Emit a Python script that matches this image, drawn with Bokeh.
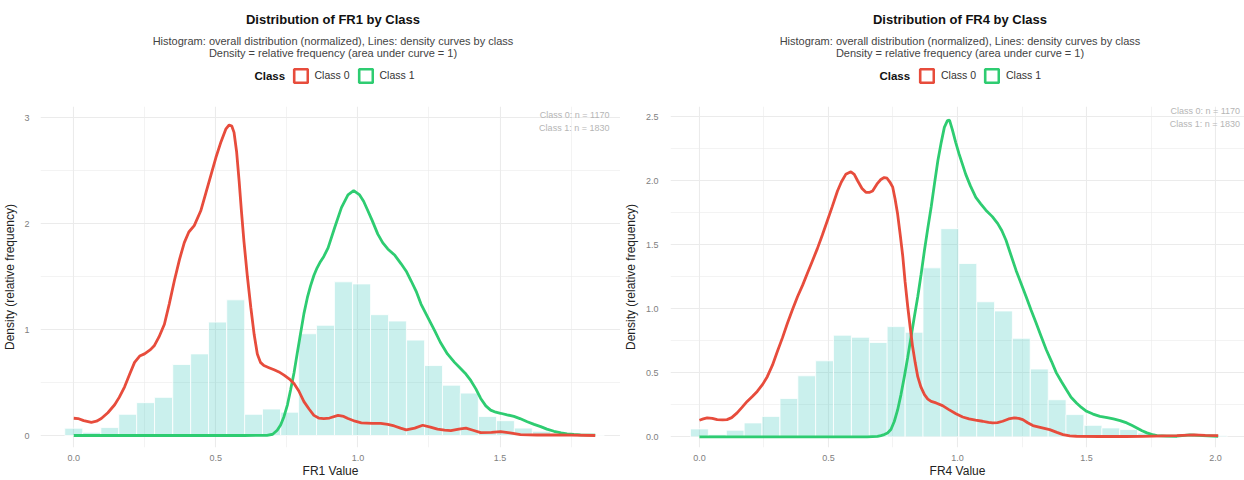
from bokeh.plotting import figure
from bokeh.models import (FixedTicker, NumeralTickFormatter, BasicTickFormatter, Label, Legend,
                          LegendItem, Range1d)
from bokeh.layouts import row, column
from bokeh.embed import file_html
from bokeh.resources import INLINE

# ---------------- data ----------------
classes = ["Class 0", "Class 1"]
class_counts = [1170, 1830]

# FR1 overall histogram (density)
fr1_bin_width = 0.0633
fr1_bin_centers = [0.0, 0.063, 0.127, 0.190, 0.253, 0.316, 0.380, 0.443, 0.506, 0.570,
                   0.633, 0.696, 0.760, 0.823, 0.886, 0.949, 1.013, 1.076, 1.139, 1.203,
                   1.266, 1.329, 1.392, 1.456, 1.519, 1.582, 1.646, 1.709, 1.772, 1.835]
fr1_hist = [0.069, 0.03, 0.075, 0.20, 0.31, 0.36, 0.67, 0.77, 1.07, 1.28,
            0.20, 0.25, 0.22, 0.96, 1.04, 1.45, 1.43, 1.14, 1.08, 0.90,
            0.66, 0.475, 0.40, 0.18, 0.14, 0.07, 0.04, 0.02, 0.01, 0.005]

# FR1 class 0 density
fr1_c0_x = [0.0, 0.015, 0.035, 0.062, 0.08, 0.097, 0.12, 0.144, 0.16, 0.179, 0.197, 0.214,
            0.232, 0.249, 0.27, 0.284, 0.30, 0.319, 0.336, 0.354, 0.372, 0.389, 0.405, 0.424,
            0.447, 0.465, 0.483, 0.50, 0.518, 0.535, 0.547, 0.556, 0.564, 0.573, 0.582, 0.590,
            0.599, 0.611, 0.623, 0.635, 0.646, 0.657, 0.669, 0.687, 0.705, 0.722, 0.740, 0.758,
            0.775, 0.792, 0.810, 0.828, 0.845, 0.862, 0.88, 0.90, 0.93, 0.95, 0.965, 0.99,
            1.012, 1.05, 1.08, 1.105, 1.128, 1.15, 1.17, 1.20, 1.228, 1.255, 1.28, 1.305,
            1.327, 1.355, 1.38, 1.405, 1.432, 1.47, 1.502, 1.535, 1.572, 1.63, 1.69, 1.75, 1.835]
fr1_c0_y = [0.163, 0.16, 0.14, 0.125, 0.135, 0.16, 0.215, 0.29, 0.36, 0.46, 0.58, 0.69,
            0.75, 0.77, 0.81, 0.85, 0.93, 1.05, 1.24, 1.46, 1.66, 1.82, 1.92, 1.98,
            2.12, 2.29, 2.46, 2.62, 2.77, 2.89, 2.93, 2.92, 2.86, 2.68, 2.40, 2.12,
            1.83, 1.50, 1.21, 0.95, 0.77, 0.69, 0.66, 0.64, 0.62, 0.60, 0.57, 0.535,
            0.49, 0.42, 0.32, 0.25, 0.19, 0.165, 0.16, 0.165, 0.19, 0.18, 0.16, 0.135,
            0.12, 0.115, 0.115, 0.105, 0.09, 0.07, 0.053, 0.07, 0.097, 0.08, 0.06, 0.05,
            0.047, 0.06, 0.069, 0.05, 0.028, 0.03, 0.037, 0.025, 0.008, 0.005, 0.005, 0.003, 0.0]

# FR1 class 1 density
fr1_c1_x = [0.0, 0.60, 0.68, 0.70, 0.716, 0.728, 0.74, 0.752, 0.763, 0.775, 0.786, 0.798,
            0.81, 0.822, 0.833, 0.845, 0.856, 0.868, 0.88, 0.895, 0.918, 0.942, 0.965, 0.985,
            1.006, 1.02, 1.035, 1.05, 1.07, 1.087, 1.105, 1.13, 1.152, 1.17, 1.187, 1.205,
            1.222, 1.245, 1.27, 1.29, 1.315, 1.34, 1.362, 1.38, 1.397, 1.415, 1.432, 1.45,
            1.467, 1.485, 1.502, 1.525, 1.549, 1.57, 1.596, 1.62, 1.643, 1.665, 1.69, 1.715,
            1.736, 1.76, 1.783, 1.835]
fr1_c1_y = [0.0, 0.0, 0.002, 0.012, 0.05, 0.10, 0.18, 0.29, 0.43, 0.59, 0.77, 0.96,
            1.15, 1.30, 1.41, 1.51, 1.58, 1.64, 1.69, 1.77, 1.96, 2.15, 2.27, 2.31,
            2.27, 2.21, 2.12, 2.03, 1.90, 1.82, 1.76, 1.70, 1.62, 1.55, 1.46, 1.36,
            1.24, 1.12, 0.99, 0.88, 0.77, 0.69, 0.63, 0.58, 0.52, 0.44, 0.35, 0.28,
            0.24, 0.22, 0.21, 0.195, 0.18, 0.16, 0.13, 0.105, 0.084, 0.06, 0.04, 0.025,
            0.016, 0.01, 0.006, 0.004]

# FR4 overall histogram (density)
fr4_bin_width = 0.0693
fr4_bin_centers = [0.0, 0.069, 0.139, 0.208, 0.277, 0.347, 0.416, 0.485, 0.554, 0.624,
                   0.693, 0.762, 0.832, 0.901, 0.970, 1.040, 1.109, 1.178, 1.247, 1.317,
                   1.386, 1.455, 1.525, 1.594, 1.663, 1.733, 1.802, 1.871, 1.940, 2.010]
fr4_hist = [0.062, 0.018, 0.052, 0.109, 0.16, 0.30, 0.477, 0.594, 0.794, 0.778,
            0.737, 0.861, 0.817, 1.32, 1.626, 1.354, 1.055, 0.983, 0.77, 0.53,
            0.29, 0.174, 0.09, 0.07, 0.057, 0.03, 0.012, 0.008, 0.01, 0.008]

# FR4 class 0 density
fr4_c0_x = [0.0, 0.015, 0.03, 0.05, 0.069, 0.09, 0.107, 0.125, 0.146, 0.165, 0.185, 0.205,
            0.224, 0.245, 0.263, 0.283, 0.302, 0.322, 0.341, 0.36, 0.38, 0.40, 0.418, 0.437,
            0.457, 0.476, 0.496, 0.515, 0.535, 0.55, 0.567, 0.587, 0.60, 0.613, 0.63, 0.645,
            0.66, 0.671, 0.69, 0.703, 0.716, 0.727, 0.738, 0.749, 0.758, 0.768, 0.778, 0.788,
            0.797, 0.807, 0.817, 0.826, 0.836, 0.846, 0.858, 0.872, 0.885, 0.898, 0.917, 0.942,
            0.965, 0.994, 1.02, 1.045, 1.07, 1.097, 1.12, 1.136, 1.155, 1.175, 1.198, 1.22,
            1.237, 1.253, 1.272, 1.292, 1.32, 1.357, 1.385, 1.409, 1.435, 1.461, 1.55, 1.65,
            1.72, 1.80, 1.85, 1.916, 1.96, 2.01]
fr4_c0_y = [0.13, 0.14, 0.148, 0.145, 0.135, 0.132, 0.135, 0.15, 0.187, 0.23, 0.277, 0.315,
            0.355, 0.41, 0.47, 0.56, 0.667, 0.775, 0.887, 0.99, 1.094, 1.185, 1.276, 1.37,
            1.47, 1.575, 1.69, 1.80, 1.92, 1.99, 2.05, 2.07, 2.05, 2.0, 1.94, 1.91,
            1.91, 1.92, 1.98, 2.01, 2.025, 2.02, 1.99, 1.95, 1.86, 1.74, 1.58, 1.41,
            1.21, 1.02, 0.85, 0.705, 0.58, 0.47, 0.39, 0.33, 0.295, 0.277, 0.265, 0.244,
            0.215, 0.18, 0.155, 0.14, 0.13, 0.122, 0.113, 0.109, 0.112, 0.122, 0.14, 0.148,
            0.145, 0.135, 0.11, 0.088, 0.075, 0.057, 0.035, 0.018, 0.008, 0.005, 0.003, 0.003,
            0.004, 0.008, 0.01, 0.015, 0.012, 0.01]

# FR4 class 1 density
fr4_c1_x = [0.0, 0.65, 0.69, 0.703, 0.716, 0.729, 0.742, 0.755, 0.768, 0.781, 0.794, 0.807,
            0.82, 0.833, 0.846, 0.859, 0.872, 0.885, 0.898, 0.911, 0.924, 0.937, 0.949, 0.961,
            0.969, 0.98, 0.993, 1.006, 1.019, 1.032, 1.05, 1.071, 1.09, 1.11, 1.135, 1.156,
            1.172, 1.188, 1.207, 1.227, 1.246, 1.266, 1.285, 1.305, 1.325, 1.344, 1.364, 1.383,
            1.403, 1.422, 1.44, 1.461, 1.48, 1.50, 1.525, 1.552, 1.58, 1.604, 1.63, 1.656,
            1.675, 1.695, 1.715, 1.734, 1.755, 1.773, 1.81, 1.85, 1.90, 1.95, 2.01]
fr4_c1_y = [0.0, 0.0, 0.004, 0.01, 0.018, 0.03, 0.057, 0.12, 0.21, 0.33, 0.47, 0.62,
            0.78, 0.94, 1.094, 1.27, 1.457, 1.63, 1.795, 1.98, 2.158, 2.30, 2.417, 2.47,
            2.474, 2.40, 2.30, 2.21, 2.13, 2.05, 1.96, 1.87, 1.82, 1.77, 1.72, 1.665,
            1.61, 1.535, 1.42, 1.30, 1.20, 1.094, 0.99, 0.887, 0.78, 0.68, 0.59, 0.50,
            0.43, 0.368, 0.31, 0.265, 0.23, 0.20, 0.178, 0.16, 0.15, 0.14, 0.127, 0.109,
            0.09, 0.07, 0.048, 0.031, 0.018, 0.01, 0.006, 0.005, 0.015, 0.01, 0.005]

fr1_xticks = [0.0, 0.5, 1.0, 1.5]
fr1_yticks = [0, 1, 2, 3]
fr4_xticks = [0.0, 0.5, 1.0, 1.5, 2.0]
fr4_yticks = [0.0, 0.5, 1.0, 1.5, 2.0, 2.5]

# ---------------- style / layout ----------------
FONT = "Liberation Sans"
RED = "#E74C3C"
GREEN = "#2ECC71"
HIST = "#4ECDC4"
GRID = "#EBEBEB"

HEAD_H = 100     # header strip (titles + legend)
MAIN_H = 380     # chart strip
BT = 6           # top border of chart
BB = 28          # bottom border of chart


def hy(page_y):
    """page y (px, from top) -> header y (px, from header bottom)"""
    return HEAD_H - page_y


def make_header(feature, width, bl, br, title_x, legend_x, class_x):
    # header frame is aligned with the chart frame below it -> data x == px from figure left
    h = figure(width=width, height=HEAD_H, x_range=Range1d(bl, width - br),
               y_range=Range1d(0, HEAD_H),
               output_backend="svg", toolbar_location=None, title=None,
               x_axis_location=None, y_axis_location=None, min_border=0,
               min_border_left=bl, min_border_right=br)
    h.grid.visible = False
    h.outline_line_color = None
    h.background_fill_color = "white"
    h.border_fill_color = "white"

    h.add_layout(Label(x=title_x, y=hy(19), text=f"Distribution of {feature} by Class",
                       text_align="center", text_baseline="middle", text_font=FONT,
                       text_font_size="13px", text_font_style="bold", text_color="#111111"))
    h.add_layout(Label(x=title_x, y=hy(40),
                       text="Histogram: overall distribution (normalized), Lines: density curves by class",
                       text_align="center", text_baseline="middle", text_font=FONT,
                       text_font_size="11px", text_color="#444444"))
    h.add_layout(Label(x=title_x, y=hy(52),
                       text="Density = relative frequency (area under curve = 1)",
                       text_align="center", text_baseline="middle", text_font=FONT,
                       text_font_size="11px", text_color="#444444"))

    # legend proxies (outlined squares), placed outside the visible header range
    r0 = h.rect(x=[-5000], y=[-5000], width=1, height=1, fill_color=None, line_color=RED,
                line_width=2.6)
    r1 = h.rect(x=[-5000], y=[-5000], width=1, height=1, fill_color=None, line_color=GREEN,
                line_width=2.6)
    gh = 17
    legend = Legend(items=[LegendItem(label=classes[0], renderers=[r0]),
                           LegendItem(label=classes[1], renderers=[r1])],
                    orientation="horizontal", location=(legend_x - bl, hy(75) - gh / 2),
                    glyph_width=gh, glyph_height=gh, label_standoff=6, spacing=7,
                    padding=0, margin=0, border_line_color=None, background_fill_alpha=0,
                    label_text_font=FONT, label_text_font_size="10.5px",
                    label_text_color="#333333", label_text_baseline="middle")
    h.add_layout(legend, "center")
    h.add_layout(Label(x=class_x, y=hy(75), text="Class",
                       text_align="right", text_baseline="middle", text_font=FONT,
                       text_font_size="11.5px", text_font_style="bold", text_color="#111111"))
    return h


def make_panel(feature, width, bl, br, xr, yr, xticks, xminor, yticks, yminor, yfmt,
               centers, bw, hist, c0x, c0y, c1x, c1y, ann_x, ann_y0, ann_y1,
               y_lab_standoff, y_axis_standoff):
    p = figure(width=width, height=MAIN_H, x_range=Range1d(*xr), y_range=Range1d(*yr),
               output_backend="svg", toolbar_location=None, title=None,
               min_border_left=bl, min_border_right=br, min_border_top=BT, min_border_bottom=BB)
    p.outline_line_color = None
    p.background_fill_color = "white"
    p.border_fill_color = "white"

    xt = FixedTicker(ticks=xticks, minor_ticks=xminor)
    yt = FixedTicker(ticks=yticks, minor_ticks=yminor)
    p.xaxis.ticker = xt
    p.yaxis.ticker = yt
    p.xgrid.ticker = xt
    p.ygrid.ticker = yt
    p.xaxis.formatter = NumeralTickFormatter(format="0.0")
    p.yaxis.formatter = yfmt
    for g in (p.xgrid, p.ygrid):
        g.grid_line_color = GRID
        g.grid_line_width = 1.1
        g.minor_grid_line_color = GRID
        g.minor_grid_line_width = 0.6
    for ax in (p.xaxis, p.yaxis):
        ax.axis_line_color = None
        ax.major_tick_line_color = None
        ax.minor_tick_line_color = None
        ax.major_tick_out = 0
        ax.major_tick_in = 0
        ax.major_label_text_font = FONT
        ax.major_label_text_font_size = "9px"
        ax.major_label_text_color = "#808080"
        ax.axis_label_text_font = FONT
        ax.axis_label_text_font_size = "12px"
        ax.axis_label_text_font_style = "normal"
        ax.axis_label_text_color = "#222222"
    p.xaxis.axis_label = f"{feature} Value"
    p.yaxis.axis_label = "Density (relative frequency)"
    p.xaxis.major_label_standoff = 3
    p.xaxis.axis_label_standoff = 0
    p.yaxis.major_label_standoff = y_lab_standoff
    p.yaxis.axis_label_standoff = y_axis_standoff

    # histogram of overall distribution
    p.vbar(x=centers, top=hist, bottom=0, width=bw, fill_color=HIST, fill_alpha=0.3,
           line_color="white", line_width=0.8)
    # density curves
    p.line(c1x, c1y, line_color=GREEN, line_width=2.8)
    p.line(c0x, c0y, line_color=RED, line_width=2.8)

    # sample-size annotation
    for yy, cls, n in ((ann_y0, classes[0], class_counts[0]), (ann_y1, classes[1], class_counts[1])):
        p.add_layout(Label(x=ann_x, y=yy, text=f"{cls}: n = {n}", text_align="right",
                           text_baseline="middle", text_font=FONT, text_font_size="9px",
                           text_color="#b5b5b5"))
    return p


P1_W, P1_BL = 620, 39
P2_W, P2_BL = 624, 49

h1 = make_header("FR1", P1_W, P1_BL, 0, 332, 290.5, 284)
h2 = make_header("FR4", P2_W, P2_BL, 0, 339, 297, 289)

p1 = make_panel("FR1", P1_W, P1_BL, 0, (-0.117, 1.924), (-0.113, 3.104),
                fr1_xticks, [0.25, 0.75, 1.25, 1.75],
                fr1_yticks, [0.5, 1.5, 2.5], BasicTickFormatter(),
                fr1_bin_centers, fr1_bin_width, fr1_hist, fr1_c0_x, fr1_c0_y, fr1_c1_x, fr1_c1_y,
                1.885, 3.02, 2.905, 7, 4)
p2 = make_panel("FR4", P2_W, P2_BL, 0, (-0.112, 2.112), (-0.083, 2.58),
                fr4_xticks, [0.25, 0.75, 1.25, 1.75],
                fr4_yticks, [0.25, 0.75, 1.25, 1.75, 2.25], NumeralTickFormatter(format="0.0"),
                fr4_bin_centers, fr4_bin_width, fr4_hist, fr4_c0_x, fr4_c0_y, fr4_c1_x, fr4_c1_y,
                2.095, 2.547, 2.443, 8, 5)

layout = row(column(h1, p1), column(h2, p2))
open("out.html", "w").write(file_html(layout, INLINE))
